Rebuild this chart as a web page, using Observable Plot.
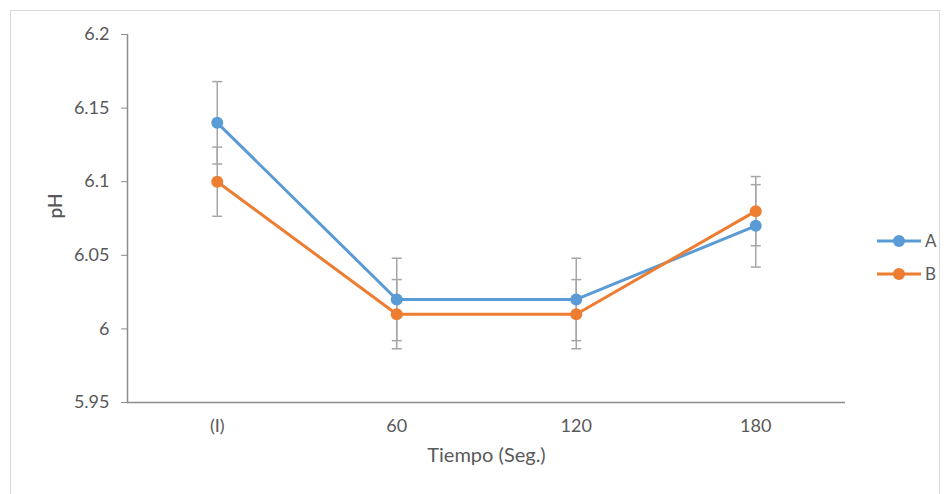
<!DOCTYPE html>
<html>
<head>
<meta charset="utf-8">
<script src="https://cdn.jsdelivr.net/npm/d3@7"></script>
<script src="https://cdn.jsdelivr.net/npm/@observablehq/plot@0.6"></script>
<style>
  html, body { margin: 0; padding: 0; background: #fff; }
  #wrap { position: relative; width: 950px; height: 494px; overflow: hidden; font-family: Lato, "Open Sans", sans-serif; }
  #border { position: absolute; left: 10px; top: 10px; width: 930px; height: 500px; border: 1px solid #d9d9d9; box-sizing: border-box; pointer-events: none; }
  #legend { position: absolute; left: 876px; top: 224px; }
  .lg { display: flex; align-items: center; height: 33px; color: #595959; font-size: 17px; }
  .lg span { margin-left: 3px; }
</style>
</head>
<body>
<div id="wrap">
  <div id="chart"></div>
  <div id="border"></div>
  <div id="legend"></div>
</div>
<script>
const categories = ["(I)", "60", "120", "180"];
const seriesNames = ["A", "B"];
const seriesA = [6.14, 6.02, 6.02, 6.07];
const seriesB = [6.10, 6.01, 6.01, 6.08];
const errA = [0.028, 0.028, 0.028, 0.028];
const errB = [0.0235, 0.0235, 0.0235, 0.0235];
const yTicks = [5.95, 6, 6.05, 6.1, 6.15, 6.2];
const colors = ["#5B9BD5", "#ED7D31"];
const xTitle = "Tiempo (Seg.)";
const yTitle = "pH";

const rows = [];
[[seriesA, errA], [seriesB, errB]].forEach(([vals, errs], s) => {
  vals.forEach((v, i) => rows.push({series: seriesNames[s], i, v, lo: v - errs[i], hi: v + errs[i]}));
});

const cap = { draw(ctx) { ctx.moveTo(-5, 0); ctx.lineTo(5, 0); } };

const chart = Plot.plot({
  width: 950,
  height: 494,
  marginLeft: 127,
  marginRight: 105,
  marginTop: 34,
  marginBottom: 92,
  style: { fontFamily: "Lato, 'Open Sans', sans-serif", fontSize: "18px", color: "#595959", background: "transparent" },
  x: { type: "linear", domain: [-0.5, categories.length - 0.5] },
  y: { domain: [5.95, 6.2] },
  color: { domain: seriesNames, range: colors },
  marks: [
    Plot.axisY({ticks: yTicks, tickSize: 6, tickPadding: 12, tickFormat: d => String(+d.toFixed(2)), stroke: "#8c8c8c", fill: "#595959", label: null, fontSize: 18}),
    Plot.axisX({ticks: d3.range(categories.length), tickSize: 0, tickPadding: 17, tickFormat: i => categories[i], fill: "#595959", label: null, fontSize: 18}),
    Plot.ruleX([-0.5], {stroke: "#8c8c8c", strokeWidth: 1.5}),
    Plot.ruleY([5.95], {stroke: "#8c8c8c", strokeWidth: 1.5}),
    Plot.ruleX(rows, {x: "i", y1: "lo", y2: "hi", stroke: "#a6a6a6", strokeWidth: 1.5}),
    Plot.dot(rows, {x: "i", y: "lo", symbol: cap, stroke: "#a6a6a6", strokeWidth: 1.5, r: 5}),
    Plot.dot(rows, {x: "i", y: "hi", symbol: cap, stroke: "#a6a6a6", strokeWidth: 1.5, r: 5}),
    Plot.line(rows, {x: "i", y: "v", z: "series", stroke: "series", strokeWidth: 3}),
    Plot.dot(rows, {x: "i", y: "v", fill: "series", r: 6}),
    Plot.text([xTitle], {frameAnchor: "bottom", dy: 59, text: d => d, fill: "#595959", fontSize: 20}),
    Plot.text([yTitle], {frameAnchor: "left", dx: -72, rotate: -90, text: d => d, fill: "#595959", fontSize: 19, fontWeight: 600})
  ]
});
document.getElementById("chart").appendChild(chart);

const legend = document.getElementById("legend");
seriesNames.forEach((name, s) => {
  const row = document.createElement("div");
  row.className = "lg";
  row.innerHTML = `<svg width="46" height="14"><line x1="1" x2="45" y1="7" y2="7" stroke="${colors[s]}" stroke-width="3"/><circle cx="23" cy="7" r="6" fill="${colors[s]}"/></svg><span>${name}</span>`;
  legend.appendChild(row);
});
</script>
</body>
</html>
